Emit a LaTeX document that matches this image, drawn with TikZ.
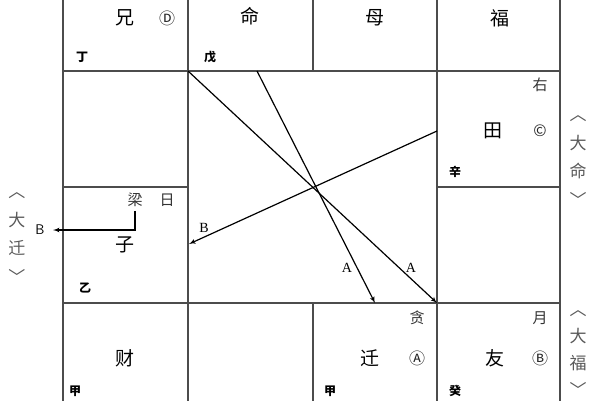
\documentclass[tikz,border=0pt]{standalone}
\usepackage{fontspec}
\setmainfont{Liberation Serif}
\newfontfamily\cjk{Noto Sans CJK SC}
\usetikzlibrary{arrows}
\usetikzlibrary{positioning}

\begin{document}
\begin{tikzpicture}[x=1pt,y=-1pt,>=latex',line width=1.2pt,
  grid/.style={draw=black!70,line width=1.2pt},
  gong/.style={font=\cjk\fontsize{19}{19}\selectfont},
  xing/.style={font=\cjk\fontsize{15}{15}\selectfont,text=black!80},
  gan/.style={font=\cjk\bfseries\fontsize{12}{12}\selectfont},
  hua/.style={font=\cjk\fontsize{16}{16}\selectfont,text=black!85},
  side/.style={font=\cjk\fontsize{17}{28.5}\selectfont,text=black!65,align=center},
  zimu/.style={font=\fontsize{14}{14}\selectfont}]
\useasboundingbox (0,0) rectangle (600,400);
\clip (0,0) rectangle (600,400);
% grid of the twelve palaces
\path[grid] (63,-50) rectangle (560,450);
\path[grid] (63,71) -- (560,71);
\path[grid] (63,303) -- (560,303);
\path[grid] (63,187) -- (188,187);
\path[grid] (437,187) -- (560,187);
\path[grid] (188,-50) -- (188,450);
\path[grid] (437,-50) -- (437,450);
\path[grid] (313,-50) -- (313,71);
\path[grid] (313,303) -- (313,450);
% top row
\path node[gong] (xiong) at (125,18) {兄};
\path node[hua] (hd) at (167,18) {Ⓓ};
\path node[gan] (ding) at (82,57) {丁};
\path node[gong] (ming) at (250,16) {命};
\path node[gan] (wu) at (210,57) {戊};
\path node[gong] (mu) at (375,18) {母};
\path node[gong] (fu) at (500,18) {福};
% right column
\path node[xing] (you) at (540,85) {右};
\path node[gong] (tian) at (493,131) {田};
\path node[hua] (hc) at (540,131) {©};
\path node[gan] (xin) at (455,172) {辛};
% left column
\path node[xing] (liang) at (135,200) {梁};
\path node[xing] (ri) at (167,200) {日};
\path node[gong] (zi) at (125,245) {子};
\path node[gan] (yi) at (85,288) {乙};
\coordinate (bl) at (53,230);
\path node[zimu,font=\sffamily\fontsize{14}{14}\selectfont] (b1) at (40,230) {B};
\path[->,draw] (liang.south) |- (bl);
% bottom row
\path node[gong] (cai) at (125,358) {财};
\path node[gan] (jia1) at (75,391) {甲};
\path node[xing] (tan) at (417,318) {贪};
\path node[gong] (qian) at (370,358) {迁};
\path node[hua] (ha) at (417,358) {Ⓐ};
\path node[gan] (jia2) at (330,391) {甲};
\path node[xing] (yue) at (540,318) {月};
\path node[gong] (friend) at (495,358) {友};
\path node[hua] (hb) at (540,358) {Ⓑ};
\path node[gan] (gui) at (455,391) {癸};
% outside the chart
\path node[side] (daqian) at (17,238) {︿\\大\\迁\\﹀};
\path node[side] (daming) at (578,161) {︿\\大\\命\\﹀};
\path node[side,font=\cjk\fontsize{17}{27}\selectfont] (dafu) at (578,354) {︿\\大\\福\\﹀};
% arrows through the centre
\coordinate (a1) at (188,71);
\coordinate (a2) at (437,303);
\coordinate (a3) at (257,71);
\coordinate (a4) at (375,303);
\coordinate (b3) at (437,131);
\coordinate (b4) at (189,244);
\path[->,draw] (a1) -- (a2);
\path[->,draw] (a3) -- (a4);
\path[->,draw] (b3) -- (b4);
\path node[zimu] (lb) at (204,228) {B};
\path node[zimu] (la1) at (347,268) {A};
\path node[zimu] (la2) at (411,268) {A};
\end{tikzpicture}
\end{document}
